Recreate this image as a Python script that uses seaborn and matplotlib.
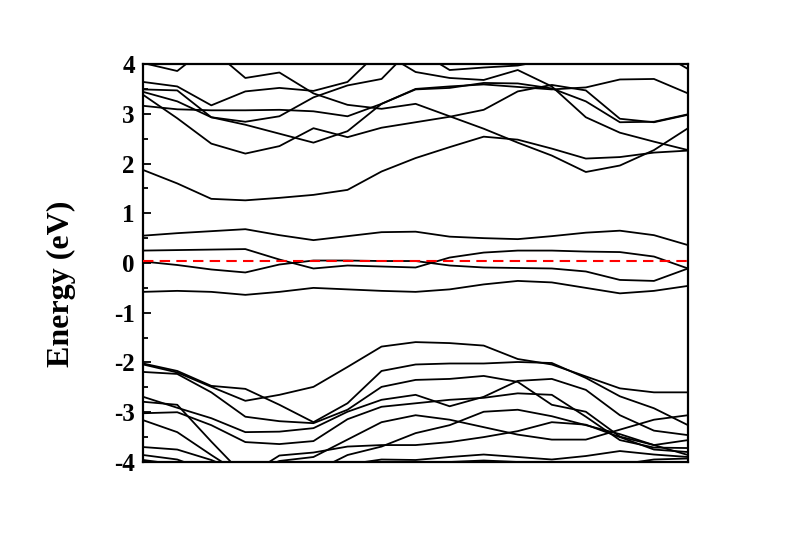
import numpy as np
import pandas as pd
import seaborn as sns
import matplotlib
matplotlib.use("Agg")
import matplotlib.pyplot as plt
from matplotlib.ticker import MultipleLocator

# k-path sampled at 17 evenly spaced points (left edge -> right edge)
kpts = np.linspace(0, 1, 17)

# conduction bands (eV), values above 4 leave the window
c1 = [1.87, 1.60, 1.29, 1.26, 1.31, 1.37, 1.47, 1.84, 2.11, 2.33, 2.54, 2.48, 2.30, 2.10, 2.13, 2.22, 2.26]
c2 = [4.60, 4.60, 4.30, 3.72, 3.83, 3.41, 3.18, 3.10, 3.20, 2.95, 2.70, 2.42, 2.16, 1.83, 1.96, 2.27, 2.71]
c3 = [3.38, 2.91, 2.40, 2.20, 2.35, 2.71, 2.53, 2.72, 2.83, 2.94, 3.08, 3.45, 3.58, 3.47, 2.90, 2.83, 2.98]
c4 = [3.44, 3.25, 2.93, 2.78, 2.60, 2.42, 2.65, 3.20, 3.50, 3.55, 3.59, 3.54, 3.49, 3.53, 3.69, 3.70, 3.41]
c5 = [3.16, 3.09, 3.07, 3.07, 3.08, 3.05, 2.95, 3.20, 3.49, 3.52, 3.62, 3.61, 3.51, 3.25, 2.83, 2.84, 2.99]
c6 = [3.64, 3.55, 3.17, 3.45, 3.52, 3.46, 3.64, 4.30, 4.60, 4.60, 4.60, 4.60, 4.60, 4.60, 4.60, 4.60, 4.60]
c7 = [3.49, 3.47, 2.93, 2.84, 2.95, 3.33, 3.57, 3.70, 4.40, 4.60, 4.60, 4.60, 4.60, 4.60, 4.60, 4.60, 4.60]
c8 = [4.02, 3.86, 4.40, 4.60, 4.60, 4.60, 4.60, 4.60, 4.60, 4.60, 4.60, 4.60, 4.60, 4.60, 4.60, 4.60, 4.60]
c9 = [4.60, 4.60, 4.60, 4.60, 4.60, 4.60, 4.60, 4.25, 3.84, 3.72, 3.68, 3.88, 3.55, 2.93, 2.62, 2.44, 2.27]
c10 = [4.60, 4.60, 4.60, 4.60, 4.60, 4.60, 4.60, 4.60, 4.30, 3.88, 3.93, 3.97, 4.10, 4.60, 4.60, 4.60, 4.60]
c11 = [4.60, 4.60, 4.60, 4.60, 4.60, 4.60, 4.60, 4.60, 4.60, 4.60, 4.60, 4.60, 4.60, 4.60, 4.60, 4.30, 3.90]

# bands around the Fermi level
f1 = [0.55, 0.60, 0.64, 0.68, 0.56, 0.46, 0.54, 0.62, 0.63, 0.53, 0.50, 0.48, 0.54, 0.61, 0.65, 0.56, 0.36]
f2 = [0.25, 0.26, 0.27, 0.28, 0.07, -0.11, -0.05, -0.07, -0.09, 0.11, 0.21, 0.25, 0.25, 0.23, 0.22, 0.13, -0.11]
f3 = [0.03, -0.04, -0.13, -0.19, -0.03, 0.05, 0.05, 0.04, 0.04, -0.05, -0.09, -0.10, -0.11, -0.17, -0.34, -0.36, -0.11]
f4 = [-0.58, -0.56, -0.58, -0.64, -0.58, -0.50, -0.53, -0.56, -0.58, -0.53, -0.43, -0.36, -0.39, -0.50, -0.61, -0.56, -0.46]

# valence bands (eV)
v1 = [-2.04, -2.20, -2.49, -2.77, -2.65, -2.49, -2.09, -1.68, -1.59, -1.61, -1.66, -1.93, -2.04, -2.28, -2.52, -2.60, -2.60]
v2 = [-2.02, -2.17, -2.47, -2.53, -2.85, -3.20, -2.82, -2.17, -2.04, -2.02, -2.02, -1.99, -2.01, -2.31, -2.68, -2.92, -3.26]
v3 = [-2.19, -2.23, -2.60, -3.09, -3.18, -3.22, -2.95, -2.49, -2.35, -2.33, -2.27, -2.39, -2.85, -2.99, -3.49, -3.66, -3.56]
v4 = [-2.69, -2.91, -3.12, -3.40, -3.39, -3.32, -2.99, -2.75, -2.65, -2.88, -2.69, -2.37, -2.33, -2.55, -3.06, -3.37, -3.46]
v5 = [-2.79, -2.85, -3.59, -4.30, -3.87, -3.81, -3.69, -3.66, -3.66, -3.60, -3.50, -3.38, -3.20, -3.25, -3.50, -3.75, -3.80]
v6 = [-3.02, -3.00, -3.26, -3.60, -3.64, -3.58, -3.14, -2.89, -2.82, -2.75, -2.71, -2.62, -2.65, -3.09, -3.56, -3.71, -3.72]
v7 = [-3.16, -3.40, -3.86, -4.30, -4.50, -4.20, -3.86, -3.69, -3.42, -3.26, -2.99, -2.95, -3.08, -3.26, -3.44, -3.66, -3.86]
v8 = [-3.70, -3.75, -3.96, -4.25, -3.98, -3.90, -3.55, -3.20, -3.06, -3.15, -3.30, -3.45, -3.55, -3.55, -3.35, -3.15, -3.06]
v9 = [-3.86, -3.95, -4.20, -4.40, -4.40, -4.30, -4.05, -3.95, -3.96, -3.90, -3.85, -3.90, -3.95, -3.88, -3.78, -3.85, -3.90]
v10 = [-3.96, -4.05, -4.30, -4.50, -4.50, -4.50, -4.50, -4.30, -4.10, -4.00, -3.97, -4.00, -4.10, -4.20, -4.05, -3.95, -3.93]

fermi = 0.04

bands = {
    "c1": c1, "c2": c2, "c3": c3, "c4": c4, "c5": c5, "c6": c6, "c7": c7,
    "c8": c8, "c9": c9, "c10": c10, "c11": c11,
    "f1": f1, "f2": f2, "f3": f3, "f4": f4,
    "v1": v1, "v2": v2, "v3": v3, "v4": v4, "v5": v5, "v6": v6, "v7": v7,
    "v8": v8, "v9": v9, "v10": v10,
}

rows = []
for name, vals in bands.items():
    for k, e in zip(kpts, vals):
        rows.append({"k": k, "E": e, "band": name})
df = pd.DataFrame(rows)

sns.set_style("ticks")
plt.rcParams["font.family"] = ["Liberation Serif", "DejaVu Serif"]
plt.rcParams["font.weight"] = "bold"
plt.rcParams["axes.unicode_minus"] = False
plt.rcParams["text.color"] = "black"
plt.rcParams["axes.labelcolor"] = "black"
plt.rcParams["ytick.color"] = "black"

fig = plt.figure(figsize=(8, 5.55), dpi=100)
ax = fig.add_axes([0.179, 0.1676, 0.681, 0.717])

sns.lineplot(data=df, x="k", y="E", units="band", estimator=None, sort=False,
             color="black", lw=1.3, legend=False, ax=ax)

# Fermi level
ax.axhline(fermi, color="red", ls=(0, (5, 3)), lw=1.5, zorder=5)

ax.set_xlim(0, 1)
ax.set_ylim(-4, 4)
ax.set_xticks([])
ax.yaxis.set_major_locator(MultipleLocator(1))
ax.yaxis.set_minor_locator(MultipleLocator(0.5))
ax.tick_params(axis="y", which="both", direction="in", left=True, right=False,
               labelsize=18, pad=6, width=1.3, colors="black")
ax.tick_params(axis="y", which="major", length=6)
ax.tick_params(axis="y", which="minor", length=3.5)
for lab in ax.get_yticklabels():
    lab.set_fontweight("bold")

for sp in ax.spines.values():
    sp.set_visible(True)
    sp.set_linewidth(1.6)
    sp.set_color("black")

ax.set_xlabel("")
ax.set_ylabel("Energy (eV)", fontsize=23, fontweight="bold", color="black")
ax.yaxis.set_label_coords(-0.123, 0.447)

fig.savefig("out.png", dpi=100)
